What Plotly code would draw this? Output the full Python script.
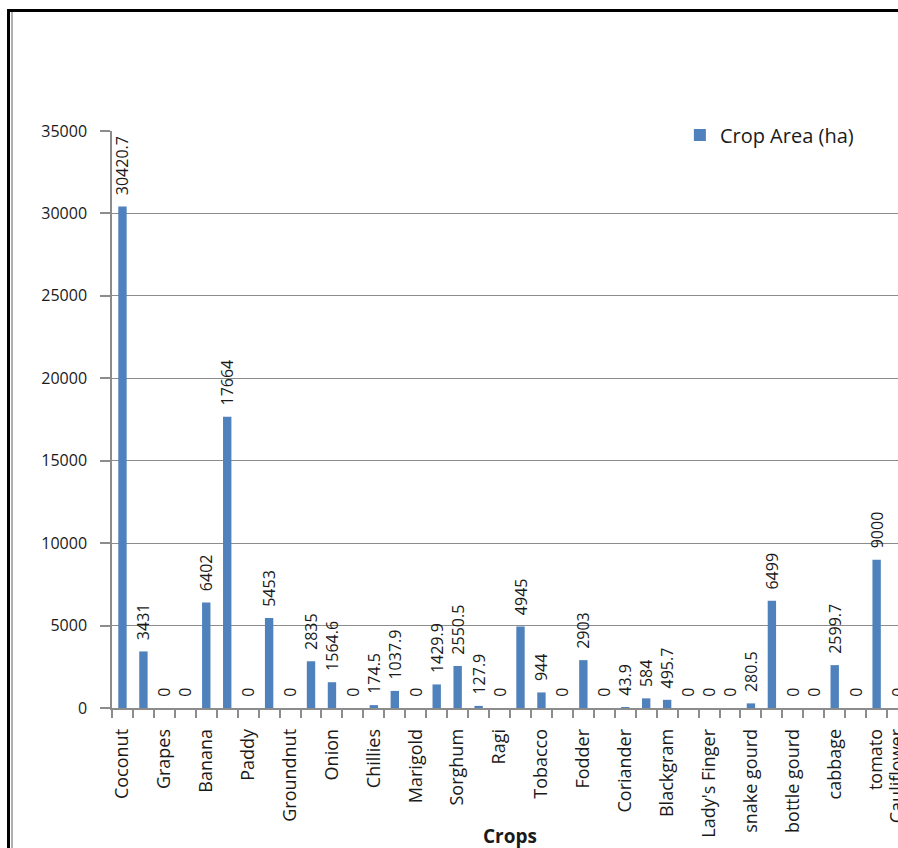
import plotly.graph_objects as go

# Data
crop_labels = [
    "Coconut", "", "Grapes", "", "Banana", "", "Paddy", "", "Groundnut", "",
    "Onion", "", "Chillies", "", "Marigold", "", "Sorghum", "", "Ragi", "",
    "Tobacco", "", "Fodder", "", "Coriander", "", "Blackgram", "", "Lady's Finger", "",
    "snake gourd", "", "bottle gourd", "", "cabbage", "", "tomato", "Cauliflower",
]
crop_area = [
    30420.7, 3431, 0, 0, 6402, 17664, 0, 5453, 0, 2835,
    1564.6, 0, 174.5, 1037.9, 0, 1429.9, 2550.5, 127.9, 0, 4945,
    944, 0, 2903, 0, 43.9, 584, 495.7, 0, 0, 0,
    280.5, 6499, 0, 0, 2599.7, 0, 9000, 0,
]
y_ticks = [0, 5000, 10000, 15000, 20000, 25000, 30000, 35000]
series_name = "Crop Area (ha)"
x_title = "Crops"

def fmt(v):
    s = f"{v:.1f}"
    return s[:-2] if s.endswith(".0") else s

idx = list(range(len(crop_area)))
labels_text = ["\u00a0\u00a0" + fmt(v) for v in crop_area]

FONT = "Open Sans, DejaVu Sans, sans-serif"
TXT = "#1a1a1a"
GRID = "#8c8c8c"

fig = go.Figure()
fig.add_trace(go.Bar(
    x=idx, y=crop_area, name=series_name, width=0.4,
    marker=dict(color="#4F81BD", line=dict(width=0)),
    text=labels_text, textposition="outside", textangle=-90,
    constraintext="none",
    textfont=dict(family=FONT, size=16, color=TXT),
    cliponaxis=True,
))

tick_pos = [i for i, l in enumerate(crop_labels) if l]
tick_txt = [l for l in crop_labels if l]

fig.update_layout(
    width=898, height=848,
    margin=dict(l=112, r=0, t=131, b=140),
    paper_bgcolor="white", plot_bgcolor="white",
    font=dict(family=FONT, size=15, color=TXT),
    showlegend=True,
    legend=dict(
        x=0.7225, y=0.993, xanchor="left", yanchor="middle",
        bgcolor="rgba(0,0,0,0)", font=dict(family=FONT, size=20, color=TXT),
    ),
    bargap=0.6,
    xaxis=dict(
        range=[-0.5, 37.02], tickmode="array", tickvals=tick_pos, ticktext=tick_txt,
        tickangle=-90, ticks="", showgrid=False, zeroline=False,
        showline=True, linecolor=GRID, linewidth=1.5,
        tickfont=dict(family=FONT, size=18, color=TXT),
        ticklabelstandoff=12, ticklabeloverflow="allow",
        minor=dict(tick0=-0.5, dtick=1, ticks="outside", ticklen=8,
                   tickcolor=GRID, tickwidth=1.5, showgrid=False),
        automargin=False,
    ),
    yaxis=dict(
        range=[0, 35000], tickmode="array", tickvals=y_ticks, tickformat="d",
        ticks="outside", ticklen=10, tickcolor=GRID, tickwidth=1.5,
        showgrid=True, gridcolor=GRID, gridwidth=1, zeroline=False,
        showline=True, linecolor=GRID, linewidth=1.5,
        tickfont=dict(family=FONT, size=16, color=TXT),
        ticklabelstandoff=10, automargin=False,
    ),
    annotations=[dict(
        text="<b>" + x_title + "</b>", xref="paper", yref="paper",
        x=0.506, y=-0.222, xanchor="center", yanchor="middle",
        showarrow=False, font=dict(family=FONT, size=19, color=TXT),
    )],
    shapes=[
        dict(type="line", xref="paper", yref="paper",
             x0=(7 - 112) / 786, x1=1.2, y0=(708 - 10.5) / 577, y1=(708 - 10.5) / 577,
             line=dict(color="black", width=3)),
        dict(type="line", xref="paper", yref="paper",
             x0=(8.5 - 112) / 786, x1=(8.5 - 112) / 786, y0=(708 - 9) / 577, y1=-0.3,
             line=dict(color="black", width=3)),
        dict(type="line", xref="paper", yref="paper",
             x0=(12 - 112) / 786, x1=(12 - 112) / 786, y0=(708 - 12) / 577, y1=-0.3,
             line=dict(color="#b0b0b0", width=2)),
    ],
)

fig.write_html("out.html")
